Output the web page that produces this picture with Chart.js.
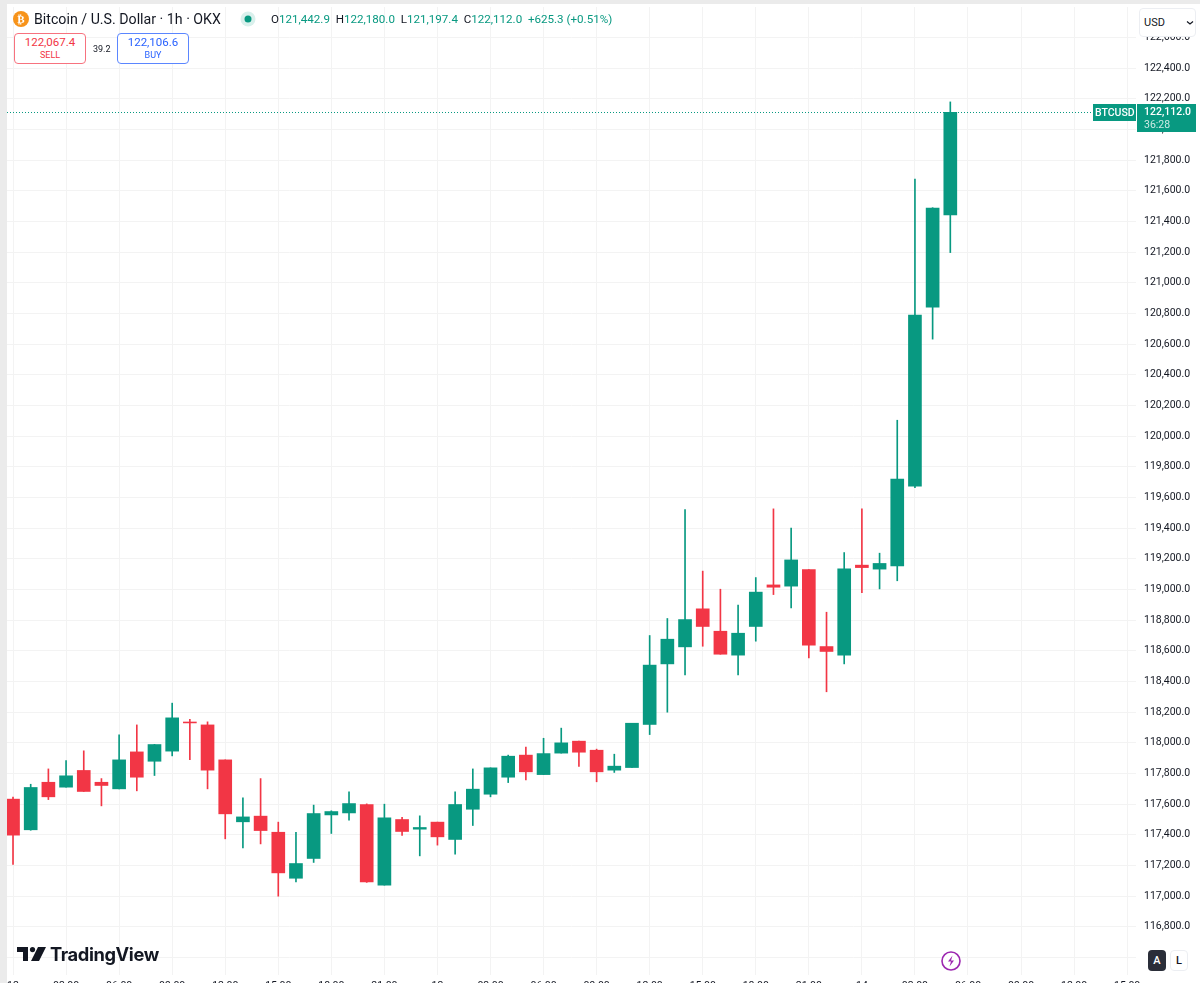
<!DOCTYPE html>
<html><head><meta charset="utf-8">
<script src="https://cdn.jsdelivr.net/npm/chart.js@4"></script>
<style>
html,body{margin:0;padding:0;background:#fff;overflow:hidden;width:1200px;height:983px}
#wrap{position:absolute;left:0;top:0;width:1200px;height:1000px}
#frameT{position:absolute;left:0;top:0;width:1200px;height:4px;background:#ebebeb}
#frameL{position:absolute;left:0;top:0;width:7px;height:983px;background:#ebebeb}
.t{position:absolute;white-space:nowrap;font-family:Roboto,sans-serif}
.g{color:#089981}.k{color:#131722}
.box{position:absolute;box-sizing:border-box;border-radius:4px;background:#fff;text-align:center;font-family:Roboto,sans-serif}
</style></head><body>
<div id="wrap"><canvas id="c" width="1200" height="1000"></canvas></div>
<div id="frameT"></div><div id="frameL"></div>
<svg style="position:absolute;left:13px;top:11px" width="16" height="16"><circle cx="8" cy="8" r="8" fill="#f7931a"/><text x="8" y="12" font-size="11" font-weight="700" text-anchor="middle" fill="#fff" font-family="Roboto">₿</text></svg>
<div class="t k" style="left:34px;top:10px;font-size:14.2px;line-height:18px">Bitcoin / U.S. Dollar · 1h · OKX</div>
<svg style="position:absolute;left:240px;top:11px" width="16" height="16"><circle cx="8" cy="8" r="7.5" fill="#d9f0ec"/><circle cx="8" cy="8" r="3.5" fill="#089981"/></svg>
<div class="t" style="left:271px;top:11px;font-size:11.6px;line-height:16px"><span class="k">O</span><span class="g">121,442.9</span>&nbsp;&nbsp;<span class="k">H</span><span class="g">122,180.0</span>&nbsp;&nbsp;<span class="k">L</span><span class="g">121,197.4</span>&nbsp;&nbsp;<span class="k">C</span><span class="g">122,112.0</span>&nbsp;&nbsp;<span class="g">+625.3 (+0.51%)</span></div>
<div class="box" style="left:14px;top:33px;width:72px;height:31px;border:1px solid #f7727f;color:#f23645">
<div style="font-size:11.5px;line-height:15px;margin-top:1px">122,067.4</div><div style="font-size:9px;line-height:11px">SELL</div></div>
<div class="t k" style="left:93px;top:43px;font-size:9px;line-height:12px">39.2</div>
<div class="box" style="left:117px;top:33px;width:72px;height:31px;border:1px solid #5b86ff;color:#2962ff">
<div style="font-size:11.5px;line-height:15px;margin-top:1px">122,106.6</div><div style="font-size:9px;line-height:11px">BUY</div></div>
<div class="box" style="left:1139px;top:8px;width:57px;height:29px;border:1px solid #eceef2;color:#131722;text-align:left">
<span style="position:absolute;left:4px;top:6px;font-size:11px;line-height:15px">USD</span>
<svg style="position:absolute;left:46px;top:11px" width="8" height="6"><path d="M1 1.5 L4 4 L7 1.5" stroke="#131722" fill="none" stroke-width="1.2"/></svg></div>
<svg style="position:absolute;left:17px;top:947px" width="29" height="15" viewBox="0 0 29 15"><path d="M0 0H11V14H6V5H0Z M21 0H29L22 14H14Z" fill="#131722"/><circle cx="15.5" cy="2.6" r="2.6" fill="#131722"/></svg>
<div class="t k" style="left:50px;top:942px;font-size:18.3px;line-height:24px;font-weight:700;font-family:Inter,Roboto,sans-serif;letter-spacing:-.4px">TradingView</div>
<svg style="position:absolute;left:940px;top:950px" width="22" height="22"><circle cx="11" cy="11" r="9" fill="#fff" stroke="#9c27b0" stroke-width="1.6"/><path d="M12.5 5.5 L8 11.5 H11 L9.5 16.5 L14 10.5 H11Z" fill="#9c27b0"/></svg>
<div class="box" style="left:1148px;top:950px;width:18px;height:21px;background:#2a2e39;color:#fff;font-size:11px;line-height:21px;font-weight:500">A</div>
<div class="box" style="left:1170px;top:950px;width:18px;height:21px;border:1px solid #eceef2;color:#131722;font-size:11px;line-height:19px;font-weight:500">L</div>
<script>
const hourLabels = ["12","01:00","02:00","03:00","04:00","05:00","06:00","07:00","08:00","09:00","10:00","11:00","12:00","13:00","14:00","15:00","16:00","17:00","18:00","19:00","20:00","21:00","22:00","23:00","13","01:00","02:00","03:00","04:00","05:00","06:00","07:00","08:00","09:00","10:00","11:00","12:00","13:00","14:00","15:00","16:00","17:00","18:00","19:00","20:00","21:00","22:00","23:00","14","01:00","02:00","03:00","04:00","05:00","06:00","07:00","08:00","09:00","10:00","11:00","12:00","13:00","14:00","15:00"];
const opens  = [117633,117433,117743,117711,117820,117743,117700,117941,117880,117946,118136,118117,117889,117485,117522,117417,117117,117246,117530,117543,117598,117072,117500,117437,117483,117370,117567,117665,117776,117920,117793,117933,118011,117952,117822,117839,118120,118515,118626,118874,118728,118572,118759,119030,119022,119130,118628,118572,119159,119133,119154,119674,120841,121442.9];
const highs  = [117646,117730,117830,117885,117948,117767,118052,118117,117990,118259,118154,118137,117889,117641,117767,117483,117417,117594,117557,117680,117602,117600,117515,117524,117483,117680,117830,117837,117920,117972,118030,118096,118011,117959,117926,118128,118700,118811,119522,119120,119002,118898,119078,119526,119400,119130,118852,119241,119526,119237,120104,121676,121490,122180];
const lows   = [117207,117430,117630,117711,117683,117589,117700,117687,117787,117915,117891,117700,117374,117315,117341,117000,117093,117220,117409,117496,117090,117072,117396,117263,117333,117274,117461,117648,117741,117759,117793,117933,117846,117746,117807,117839,118054,118200,118443,118630,118578,118443,118663,118967,118880,118554,118333,118515,118980,119004,119057,119665,120633,121197.4];
const closes = [117398,117709,117648,117785,117683,117722,117889,117776,117989,118163,118130,117822,117537,117517,117428,117152,117213,117539,117552,117604,117093,117511,117422,117448,117387,117598,117698,117837,117913,117811,117930,118000,117939,117811,117848,118128,118507,118676,118804,118759,118578,118715,118983,119015,119193,118637,118596,119135,119143,119170,119720,120789,121487,122112];
const hiddenTicks = [116600];
const upColor = "#089981", downColor = "#f23645";
const colors = closes.map((c,i)=> c>=opens[i] ? upColor : downColor);

const lastPriceTag = {
  id:"lastPriceTag",
  afterDraw(ch){
    const {ctx,chartArea:a,scales:{y}} = ch;
    const py = Math.round(y.getPixelForValue(closes[closes.length-1]));
    ctx.save();
    ctx.strokeStyle = upColor; ctx.lineWidth = 1; ctx.setLineDash([1,2]);
    ctx.beginPath(); ctx.moveTo(a.left,py+.5); ctx.lineTo(1092,py+.5); ctx.stroke();
    ctx.setLineDash([]);
    ctx.fillStyle = upColor;
    ctx.fillRect(1093,py-8,43,17);
    ctx.fillRect(1137,py-8,59,28);
    ctx.fillStyle = "#fff"; ctx.textBaseline = "middle"; ctx.textAlign = "left";
    ctx.font = "500 10.5px Roboto";
    ctx.fillText("BTCUSD",1095,py+1);
    ctx.font = "500 10.5px Roboto";
    ctx.fillText("122,112.0",1144,py+0.5);
    ctx.fillStyle = "#cdeae4"; ctx.font = "10.5px Roboto";
    ctx.fillText("36:28",1144,py+13);
    ctx.restore();
  }
};

new Chart(document.getElementById("c"),{
  type:"bar",
  data:{datasets:[
    {data:lows.map((l,i)=>({x:i,y:[l,highs[i]]})),backgroundColor:colors,barThickness:1,grouped:false,borderWidth:0,order:2},
    {data:opens.map((o,i)=>({x:i,y:[o,closes[i]]})),backgroundColor:colors,barThickness:13,grouped:false,borderWidth:0,order:1}
  ]},
  plugins:[lastPriceTag],
  options:{
    responsive:false,animation:false,devicePixelRatio:1,
    layout:{padding:{left:7,top:7,right:0,bottom:0}},
    plugins:{legend:{display:false},tooltip:{enabled:false}},
    scales:{
      x:{type:"linear",min:-0.34,max:63.5,offset:false,
        afterFit(s){s.height=25;s.paddingLeft=0;s.paddingRight=0},
        grid:{color:"#f3f3f3",drawTicks:false,offset:false},border:{display:false},
        ticks:{stepSize:3,includeBounds:false,autoSkip:false,maxRotation:0,padding:5,color:"#131722",font:{family:"Roboto",size:10.5},
          callback:v=>hourLabels[v]}},
      y:{position:"right",min:116486,max:122799,
        afterFit(s){s.width=64;s.paddingTop=0;s.paddingBottom=0},
        grid:{color:"#f3f3f3",drawTicks:false},border:{display:false},
        ticks:{stepSize:200,includeBounds:false,padding:8,color:"#131722",font:{family:"Roboto",size:10.5},
          callback:v=>hiddenTicks.includes(v)?"":v.toLocaleString("en-US",{minimumFractionDigits:1,maximumFractionDigits:1})}}
    }
  }
});
</script>
</body></html>
